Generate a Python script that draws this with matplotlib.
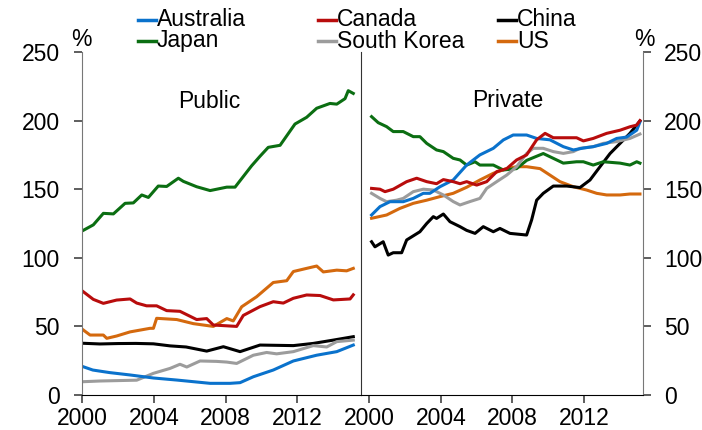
import matplotlib
matplotlib.use('Agg')

import matplotlib.pyplot as plt
from matplotlib.lines import Line2D

plt.rcParams['font.family'] = ['Liberation Sans', 'DejaVu Sans']
FS = 16.5

countries = ['Australia', 'Canada', 'China', 'Japan', 'South Korea', 'US']
colors = {'Australia': '#0A72CC', 'Canada': '#B80C0C', 'China': '#000000',
          'Japan': '#0B6E12', 'South Korea': '#9C9C9C', 'US': '#D4690E'}

# public debt, % of GDP  (years offset from 2000)
pub_aus_x = [0.07, 0.6, 1.2, 1.56, 2.68, 3.98, 5.28, 7.14, 8.25, 8.81, 9.55, 10.66, 11.78, 13.08, 14.2, 15.12]
pub_aus_y = [20.6, 18.2, 17, 16.3, 14.6, 12.4, 10.9, 8.5, 8.5, 9, 13.3, 18.2, 24.8, 29, 31.6, 36.4]
pub_can_x = [0.07, 0.63, 1.19, 1.93, 2.68, 3.05, 3.6, 4.16, 4.72, 5.46, 6.39, 6.95, 7.32, 8.62, 8.99, 9.92,
             10.66, 11.22, 11.78, 12.52, 13.27, 14.01, 14.94, 15.12]
pub_can_y = [75.3, 69.7, 66.8, 69.2, 70, 67, 65, 65, 61.5, 61, 55, 55.7, 51, 50, 58, 64.4,
             68, 67, 70.5, 72.9, 72.5, 69.3, 70, 73]
pub_chn_x = [0.07, 1, 2, 3, 3.98, 4.91, 5.8, 6.95, 7.88, 8.81, 9.92, 11.78, 12.89, 14, 15.12]
pub_chn_y = [37.7, 37.2, 37.5, 37.6, 37.3, 35.8, 35, 32, 35.2, 31.6, 36.4, 36, 37.6, 40, 42.5]
pub_jpn_x = [0.07, 0.63, 1.19, 1.75, 2.4, 2.86, 3.33, 3.7, 4.25, 4.72, 5.37, 5.65, 6.39, 7.14, 8.07, 8.53,
             9.45, 9.92, 10.38, 11.04, 11.87, 12.52, 13.08, 13.82, 14.2, 14.66, 14.84, 15.12]
pub_jpn_y = [120, 124, 132.4, 132, 139.7, 140, 145.8, 144, 152.3, 152, 158, 155.7, 151.8, 149, 151.5, 151.5,
             167, 174, 180.5, 182, 197.5, 202.4, 209, 212.5, 212, 216, 221.8, 219.8]
pub_kor_x = [0.07, 1, 2, 3.05, 3.98, 4.91, 5.46, 5.84, 6.58, 7.5, 8.07, 8.62, 9.55, 10.29, 10.85, 11.78,
             12.89, 13.64, 14.2, 15.12]
pub_kor_y = [9.7, 10.2, 10.5, 10.8, 15.8, 19.4, 22.4, 20.4, 24.8, 24.5, 24, 23, 29, 31, 30, 31.6,
             36, 35, 38.9, 40]
pub_us_x = [0.07, 0.45, 1.19, 1.38, 1.93, 2.68, 3.79, 3.98, 4.16, 5.28, 6.21, 7.32, 8.07, 8.43, 8.9, 9.73,
            10.66, 11.41, 11.78, 12.52, 13.08, 13.45, 14.2, 14.75, 15.12]
pub_us_y = [47.4, 43.7, 43.7, 41.3, 43, 46, 48.6, 48.6, 55.9, 55, 52, 50, 55.7, 54, 64.3, 71.6,
            82, 83.3, 90, 92.3, 94, 89.7, 91, 90.5, 92.3]

# private debt, % of GDP
prv_aus_x = [0.13, 0.6, 1.16, 1.9, 2.46, 3.02, 3.39, 3.95, 4.69, 5.44, 6.18, 6.93, 7.49, 8.04, 8.79, 9.35,
             10.09, 10.84, 11.4, 11.96, 12.51, 13.26, 13.82, 14.38, 14.94, 15.12]
prv_aus_y = [131.2, 137.3, 140.9, 140.9, 143.3, 147, 147, 151.8, 156.7, 167.6, 175, 179.8, 185.9, 189.5, 189.5, 187,
             186, 181, 178.6, 180, 181, 183.4, 187, 188, 193, 199]
prv_can_x = [0.13, 0.6, 0.88, 1.34, 2.09, 2.65, 3.21, 3.76, 4.14, 4.69, 5.07, 5.44, 6.0, 6.56, 7.12, 7.68,
             8.23, 8.79, 9.35, 9.82, 10.28, 10.84, 11.58, 11.96, 12.51, 13.26, 14.01, 14.56, 14.94, 15.12]
prv_can_y = [150.6, 150, 148.2, 150, 155.5, 158, 155.5, 154, 157, 155.5, 154, 155.5, 153, 155.5, 162.8, 165,
             171.3, 175, 186, 190.7, 187.5, 187.5, 187.5, 185.2, 187, 190.7, 193, 195.5, 196.7, 200]
prv_chn_x = [0.13, 0.32, 0.78, 1.06, 1.34, 1.81, 2.09, 2.83, 3.21, 3.58, 3.76, 4.14, 4.51, 5.07, 5.44, 5.91,
             6.37, 6.93, 7.3, 7.86, 8.79, 9.07, 9.35, 9.72, 10.28, 11.03, 11.77, 12.33, 12.89, 13.45,
             14.01, 14.56, 15.12]
prv_chn_y = [111.7, 108, 111.7, 102, 103.7, 103.7, 113, 119, 125, 130, 128.7, 131.9, 126.3, 122.7, 120, 117.8,
             122.7, 119, 121.4, 117.8, 116.6, 127.6, 142, 147, 152.3, 152.3, 151.2, 156.7, 166.4, 176,
             183.4, 190.7, 199.7]
prv_jpn_x = [0.13, 0.5, 0.97, 1.34, 1.9, 2.46, 2.83, 3.21, 3.76, 4.14, 4.69, 5.07, 5.44, 5.91, 6.18, 6.93,
             7.49, 8.23, 8.79, 9.72, 10.28, 10.84, 11.58, 11.96, 12.51, 13.07, 14.01, 14.56, 14.94, 15.12]
prv_jpn_y = [202.9, 198.5, 195.6, 192, 192, 188.3, 188.3, 183.4, 178.6, 177.4, 172.5, 171.3, 167.6, 170, 167.6, 167.6,
             164, 165, 171, 176, 172.5, 169, 170, 170, 167.6, 170, 169, 167.6, 170, 169]
prv_kor_x = [0.13, 0.6, 0.97, 1.53, 1.9, 2.46, 3.02, 3.58, 4.14, 4.69, 5.07, 5.63, 6.18, 6.56, 7.12, 7.68,
             8.23, 8.79, 9.16, 9.72, 10.28, 10.84, 11.4, 11.77, 12.51, 13.07, 13.82, 14.56, 15.12]
prv_kor_y = [147, 143.3, 140.9, 142, 143.3, 148.2, 150, 149.4, 145.8, 141, 138.5, 141, 143.3, 150.6, 155.5, 160.3,
             166.4, 176, 179.8, 179.8, 177.4, 176.1, 177.4, 179.8, 181, 183.4, 184.7, 187, 190.2]
prv_us_x = [0.13, 0.97, 1.71, 2.46, 3.21, 3.95, 4.69, 5.44, 6.18, 6.93, 7.68, 8.23, 8.79, 9.54, 10.09, 10.65,
            11.4, 12.14, 12.7, 13.26, 14.01, 14.56, 15.12]
prv_us_y = [128.8, 131.2, 136, 139.7, 142, 144.6, 147, 151.4, 156.7, 161.6, 165, 166.4, 166.4, 165, 160.3, 155.5,
            151.8, 149.4, 147, 145.8, 145.8, 146.5, 146.5]

public = {'Australia': (pub_aus_x, pub_aus_y), 'Canada': (pub_can_x, pub_can_y),
          'China': (pub_chn_x, pub_chn_y), 'Japan': (pub_jpn_x, pub_jpn_y),
          'South Korea': (pub_kor_x, pub_kor_y), 'US': (pub_us_x, pub_us_y)}
private = {'Australia': (prv_aus_x, prv_aus_y), 'Canada': (prv_can_x, prv_can_y),
           'China': (prv_chn_x, prv_chn_y), 'Japan': (prv_jpn_x, prv_jpn_y),
           'South Korea': (prv_kor_x, prv_kor_y), 'US': (prv_us_x, prv_us_y)}
draw_order = ['Japan', 'US', 'Canada', 'China', 'South Korea', 'Australia']
draw_order_prv = ['US', 'China', 'Japan', 'South Korea', 'Australia', 'Canada']

fig = plt.figure(figsize=(7.02, 4.30), dpi=100)
ax1 = fig.add_axes([82 / 702, 35 / 430, 279 / 702, 343 / 430])
ax2 = fig.add_axes([361 / 702, 35 / 430, 282 / 702, 343 / 430])

for c in draw_order:
    xs, ys = public[c]
    ax1.plot([2000 + v for v in xs], ys, color=colors[c], lw=2.2)
for c in draw_order_prv:
    xs, ys = private[c]
    ax2.plot([2000 + v for v in xs], ys, color=colors[c], lw=2.2)

ax1.set_xlim(2000, 2015.55)
ax2.set_xlim(1999.54, 2015.29)
for ax in (ax1, ax2):
    ax.set_ylim(0, 250)
    ax.set_yticks(range(0, 251, 50))
    ax.set_xticks([2000, 2004, 2008, 2012])
    ax.spines['top'].set_visible(False)
    ax.tick_params(labelsize=FS, length=6, width=1.1, color='#333333', direction='out')
    ax.tick_params(axis='x', pad=2.8)

ax1.spines['right'].set_visible(False)
ax1.spines['left'].set_color('#777777')
ax1.tick_params(axis='y', pad=10)

ax2.spines['left'].set_color('#333333')
ax2.spines['right'].set_color('#777777')
ax2.yaxis.tick_right()
ax2.tick_params(axis='y', pad=9)

ax1.text(0.457, 0.855, 'Public', transform=ax1.transAxes, ha='center', va='center', fontsize=FS)
ax2.text(0.52, 0.858, 'Private', transform=ax2.transAxes, ha='center', va='center', fontsize=FS)
fig.text(81 / 702, 1 - 39 / 430, '%', ha='center', va='center', fontsize=FS)
fig.text(644 / 702, 1 - 40 / 430, '%', ha='center', va='center', fontsize=FS)

# legend laid out on fixed columns like the source
leg_cols = [138, 318, 498]
leg_rows = [19.5, 41]
leg_order = [['Australia', 'Canada', 'China'], ['Japan', 'South Korea', 'US']]
for r, row in enumerate(leg_order):
    for k, c in enumerate(row):
        x0 = leg_cols[k]
        y = 1 - leg_rows[r] / 430
        fig.add_artist(Line2D([x0 / 702, (x0 + 18) / 702], [y, y], color=colors[c], lw=2.5,
                              transform=fig.transFigure))
        fig.text((x0 + 19) / 702, y, c, ha='left', va='center', fontsize=FS)

plt.savefig('out.png', dpi=100)
